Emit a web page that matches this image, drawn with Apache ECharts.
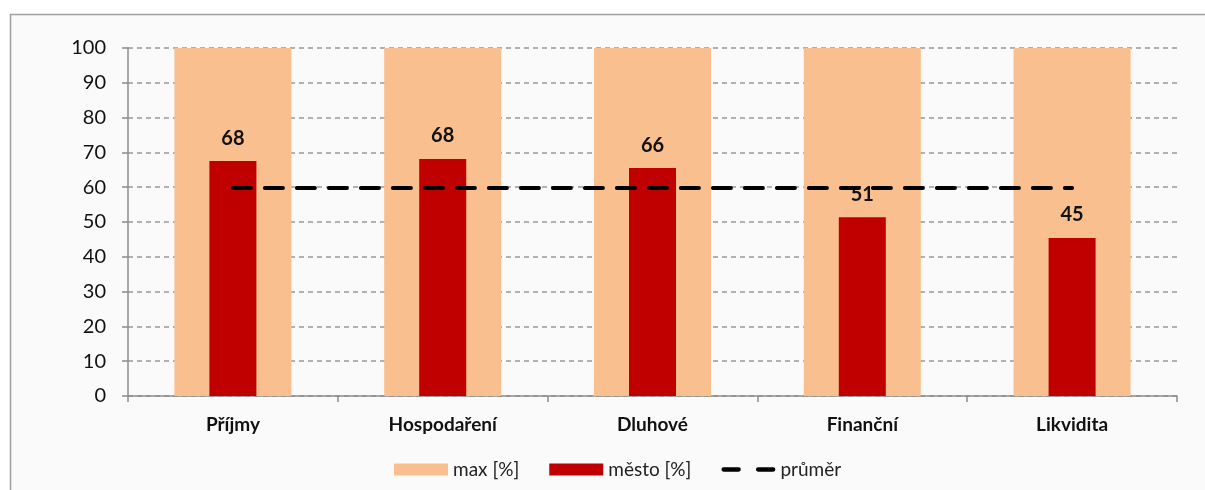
<!DOCTYPE html>
<html>
<head>
<meta charset="utf-8">
<script src="https://cdn.jsdelivr.net/npm/echarts@6/dist/echarts.min.js"></script>
<style>
    html, body {margin: 0; padding: 0; background: #fff;}
    #chart {width: 1205px; height: 490px;}
</style>
</head>
<body>
<div id="chart"></div>
<script>
let categories = ['Příjmy', 'Hospodaření', 'Dluhové', 'Finanční', 'Likvidita'];
let maxValues = [100, 100, 100, 100, 100];
let mestoValues = [67.5, 68.1, 65.5, 51.4, 45.4];
let mestoLabels = [68, 68, 66, 51, 45];
let prumerValues = [59.8, 59.8, 59.8, 59.8, 59.8];
let yTicks = [0, 10, 20, 30, 40, 50, 60, 70, 80, 90, 100];

/* graf */
let chart = echarts.init(document.getElementById("chart"), null, {renderer: 'canvas'});
let fontName = 'Lato, "Open Sans", sans-serif';
let option = {
    animation: false,
    backgroundColor: '#ffffff',
    graphic: [{
        type: 'rect',
        z: -10,
        shape: {x: 10.5, y: 14.5, width: 1220, height: 500},
        style: {fill: '#fafafa', stroke: '#a0a0a0', lineWidth: 1.5}
    }],
    grid: {left: 128, right: 28, top: 48, bottom: 94, containLabel: false},
    legend: {
        left: 389,
        top: 455,
        itemWidth: 54,
        itemHeight: 12,
        itemGap: 30,
        textStyle: {fontFamily: fontName, fontSize: 19, color: '#222'},
        data: [
            {name: 'max [%]', icon: 'rect'},
            {name: 'město [%]', icon: 'rect'},
            {name: 'průměr', icon: 'path://M2,0 h14 a2,2 0 0 1 0,4 h-14 a2,2 0 0 1 0,-4z M34,0 h14 a2,2 0 0 1 0,4 h-14 a2,2 0 0 1 0,-4z'}
        ]
    },
    xAxis: [{
        type: 'category',
        data: categories,
        axisLine: {lineStyle: {color: '#8c8c8c', width: 1.5}},
        axisTick: {show: true, length: 6, interval: 0, lineStyle: {color: '#8c8c8c', width: 1.5}},
        axisLabel: {margin: 19, fontFamily: fontName, fontSize: 19, fontWeight: 'bold', color: '#111'}
    }, {
        type: 'category',
        data: categories,
        show: false
    }],
    yAxis: {
        type: 'value',
        min: yTicks[0],
        max: yTicks[yTicks.length - 1],
        interval: 10,
        axisLine: {show: true, lineStyle: {color: '#8c8c8c', width: 1.5}},
        axisTick: {show: true, length: 6, lineStyle: {color: '#8c8c8c', width: 1.5}},
        axisLabel: {margin: 22, fontFamily: fontName, fontSize: 20, color: '#111'},
        splitLine: {show: true, lineStyle: {color: '#999', type: [5, 4], width: 1.5}}
    },
    series: [{
        name: 'max [%]',
        type: 'bar',
        xAxisIndex: 0,
        barWidth: 117,
        itemStyle: {color: '#f9bf8f'},
        data: maxValues
    }, {
        name: 'město [%]',
        type: 'bar',
        xAxisIndex: 1,
        barWidth: 47,
        itemStyle: {color: '#c00000'},
        label: {
            show: true,
            position: 'top',
            distance: 13,
            fontFamily: fontName,
            fontSize: 20,
            fontWeight: 'bold',
            color: '#111',
            formatter: function (p) { return mestoLabels[p.dataIndex]; }
        },
        data: mestoValues
    }, {
        name: 'průměr',
        type: 'line',
        xAxisIndex: 1,
        symbol: 'none',
        z: 5,
        lineStyle: {color: '#000', width: 4, type: [18, 14], cap: 'round'},
        itemStyle: {color: '#000'},
        data: prumerValues
    }]
};
chart.setOption(option);
</script>
</body>
</html>
